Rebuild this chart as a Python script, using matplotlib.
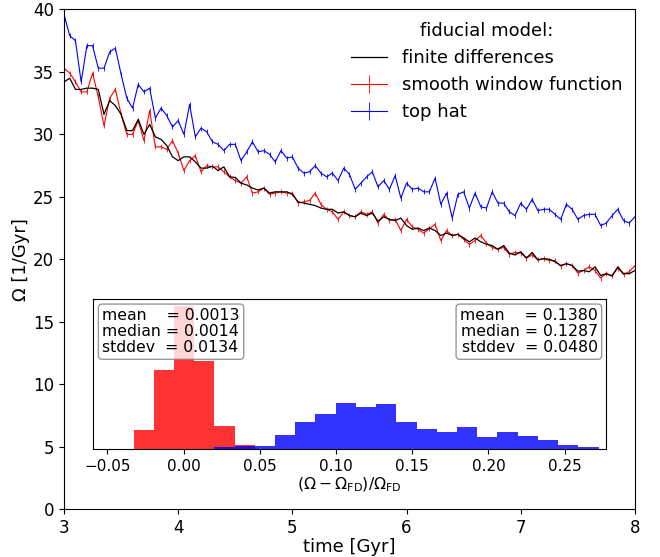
import numpy as np
import matplotlib
matplotlib.use("Agg")
import matplotlib.pyplot as plt

# time grid of the snapshots [Gyr]
T_START, T_END, N_SNAP = 3.0, 8.0, 101

OMEGA_FD = [
    34.2, 34.5, 33.6, 33.6, 33.7, 33.7, 33.6, 31.6, 32.7, 32.3,
    31.6, 30.3, 30.3, 31.2, 30.0, 30.8, 29.8, 29.6, 29.1, 28.2,
    27.9, 28.2, 28.2, 27.8, 27.3, 27.3, 27.45, 27.1, 27.4, 26.6,
    26.55, 26.1, 25.95, 25.7, 25.55, 25.7, 25.3, 25.4, 25.4, 25.4,
    25.2, 24.6, 24.5, 24.4, 24.3, 24.1, 24.0, 24.0, 23.7, 23.8,
    23.5, 23.4, 23.7, 23.5, 23.7, 23.05, 23.4, 23.2, 23.1, 23.3,
    22.7, 22.4, 22.5, 22.3, 22.5, 22.3, 21.9, 22.1, 21.9, 22.0,
    21.7, 21.4, 21.7, 21.4, 21.2, 21.1, 20.8, 21.1, 20.5, 20.35,
    20.6, 20.1, 20.55, 19.95, 20.05, 20.0, 19.8, 19.5, 19.65, 19.5,
    19.05, 19.1, 19.0, 19.4, 18.7, 18.85, 18.65, 19.4, 18.85, 18.85,
    19.1,
]
OMEGA_SMOOTH = [
    35.3, 34.9, 34.2, 33.4, 33.4, 34.9, 33.0, 30.7, 32.9, 33.6,
    31.6, 30.0, 30.0, 31.1, 29.5, 31.9, 29.0, 29.0, 28.8, 29.5,
    28.5, 27.1, 27.9, 28.3, 27.0, 27.5, 27.4, 27.4, 27.0, 26.6,
    26.3, 26.1, 26.6, 25.3, 25.4, 25.7, 25.2, 25.3, 25.4, 25.3,
    25.3, 24.5, 24.6, 24.7, 25.3, 24.4, 24.0, 23.8, 23.2, 23.8,
    23.5, 23.4, 23.8, 23.6, 23.8, 22.9, 23.6, 23.1, 23.2, 22.3,
    23.2, 22.6, 22.4, 22.1, 22.45, 22.8, 21.5, 22.3, 21.9, 22.0,
    21.6, 21.2, 21.5, 21.9, 21.3, 20.95, 20.8, 20.95, 20.4, 20.55,
    20.5, 20.1, 20.35, 19.95, 20.05, 19.9, 19.9, 19.45, 19.65, 19.5,
    18.9, 19.1, 19.4, 19.1, 18.5, 18.85, 18.7, 19.3, 18.8, 19.0,
    19.5,
]
OMEGA_TOPHAT = [
    39.6, 37.9, 37.5, 34.2, 37.1, 37.1, 35.3, 35.3, 36.6, 36.9,
    34.8, 32.9, 32.1, 34.0, 33.4, 33.7, 31.3, 32.1, 31.5, 30.6,
    31.1, 30.0, 32.4, 29.8, 30.5, 30.2, 29.4, 29.2, 28.7, 29.2,
    29.2, 27.9, 28.6, 29.4, 28.6, 28.7, 28.4, 27.8, 28.7, 28.1,
    28.2, 27.3, 26.9, 27.0, 27.5, 26.9, 26.6, 26.9, 26.3, 27.3,
    26.8, 25.6, 26.1, 26.6, 27.0, 25.8, 26.3, 25.6, 26.7, 24.9,
    26.1, 25.6, 25.7, 25.4, 25.4, 26.5, 24.4, 25.3, 23.3, 25.2,
    25.4, 24.1, 25.3, 24.2, 24.1, 25.4, 24.5, 24.5, 23.8, 23.5,
    24.5, 24.0, 24.8, 23.9, 24.0, 24.0, 23.6, 23.2, 24.4, 24.0,
    23.2, 23.5, 23.6, 23.6, 22.7, 22.9, 23.5, 24.0, 23.1, 22.9,
    23.4,
]
OMEGA_ERR = 0.2

# relative-difference histograms (common bin edges)
BIN_EDGES = [
    -0.0329, -0.0196, -0.0063, 0.0069, 0.0202, 0.0335, 0.0467, 0.0600,
    0.0733, 0.0865, 0.0998, 0.1131, 0.1263, 0.1396, 0.1529, 0.1661,
    0.1794, 0.1927, 0.2059, 0.2192, 0.2325, 0.2457, 0.2590, 0.2723,
]
SMOOTH_COUNTS = [19, 79, 143, 88, 23, 4]            # first 6 bins
TOPHAT_COUNTS = [2, 3, 3, 14, 27, 35, 46, 42, 45, 27,
                 20, 17, 22, 12, 17, 13, 9, 4, 2]   # bins 4..22

SMOOTH_STATS = ("0.0013", "0.0014", "0.0134")
TOPHAT_STATS = ("0.1380", "0.1287", "0.0480")


def stats_text(s):
    return f"mean    = {s[0]}\nmedian = {s[1]}\nstddev  = {s[2]}"


def main():
    t = np.linspace(T_START, T_END, N_SNAP)

    fig = plt.figure(figsize=(6.6, 5.57), dpi=100)
    ax = fig.add_axes([0.097, 0.086, 0.865, 0.897])

    eb_red = ax.errorbar(t, OMEGA_SMOOTH, yerr=OMEGA_ERR, color="red", lw=0.8,
                         elinewidth=0.6)
    eb_blue = ax.errorbar(t, OMEGA_TOPHAT, yerr=OMEGA_ERR, color="blue", lw=0.8,
                          elinewidth=0.6)
    ln_fd, = ax.plot(t, OMEGA_FD, color="black", lw=0.9, zorder=5)

    ax.set_xlim(3, 8)
    ax.set_ylim(0, 40)
    ax.tick_params(labelsize=12)
    ax.set_xlabel("time [Gyr]", fontsize=13, labelpad=1)
    ax.set_ylabel("Ω [1/Gyr]", fontsize=13, labelpad=2)
    ax.legend([ln_fd, eb_red, eb_blue],
              ["finite differences", "smooth window function", "top hat"],
              title="fiducial model:", title_fontsize=13, fontsize=13,
              frameon=False, loc="upper right", borderaxespad=0.3)

    # inset histogram
    ins = fig.add_axes([0.1414, 0.1934, 0.7775, 0.2698])
    edges = np.array(BIN_EDGES)
    red_edges = edges[:len(SMOOTH_COUNTS) + 1]
    blue_edges = edges[4:4 + len(TOPHAT_COUNTS) + 1]
    ins.hist(red_edges[:-1], bins=red_edges, weights=SMOOTH_COUNTS,
             color="red", alpha=0.8)
    ins.hist(blue_edges[:-1], bins=blue_edges, weights=TOPHAT_COUNTS,
             color="blue", alpha=0.8)
    ins.set_xlim(-0.0593, 0.2775)
    ins.set_yticks([])
    ins.tick_params(labelsize=11)
    ins.set_xlabel(r"$(\Omega - \Omega_{\rm FD})/\Omega_{\rm FD}$", fontsize=11.3,
                   labelpad=1)

    box = dict(boxstyle="round,pad=0.25", facecolor="white", edgecolor="0.5",
               alpha=0.8)
    ins.text(0.0175, 0.94, stats_text(SMOOTH_STATS), transform=ins.transAxes,
             ha="left", va="top", fontsize=11.3, bbox=box, linespacing=1.1)
    ins.text(0.983, 0.94, stats_text(TOPHAT_STATS), transform=ins.transAxes,
             ha="right", va="top", fontsize=11.3, bbox=box, linespacing=1.1)

    fig.savefig("out.png", dpi=100)


if __name__ == "__main__":
    main()
